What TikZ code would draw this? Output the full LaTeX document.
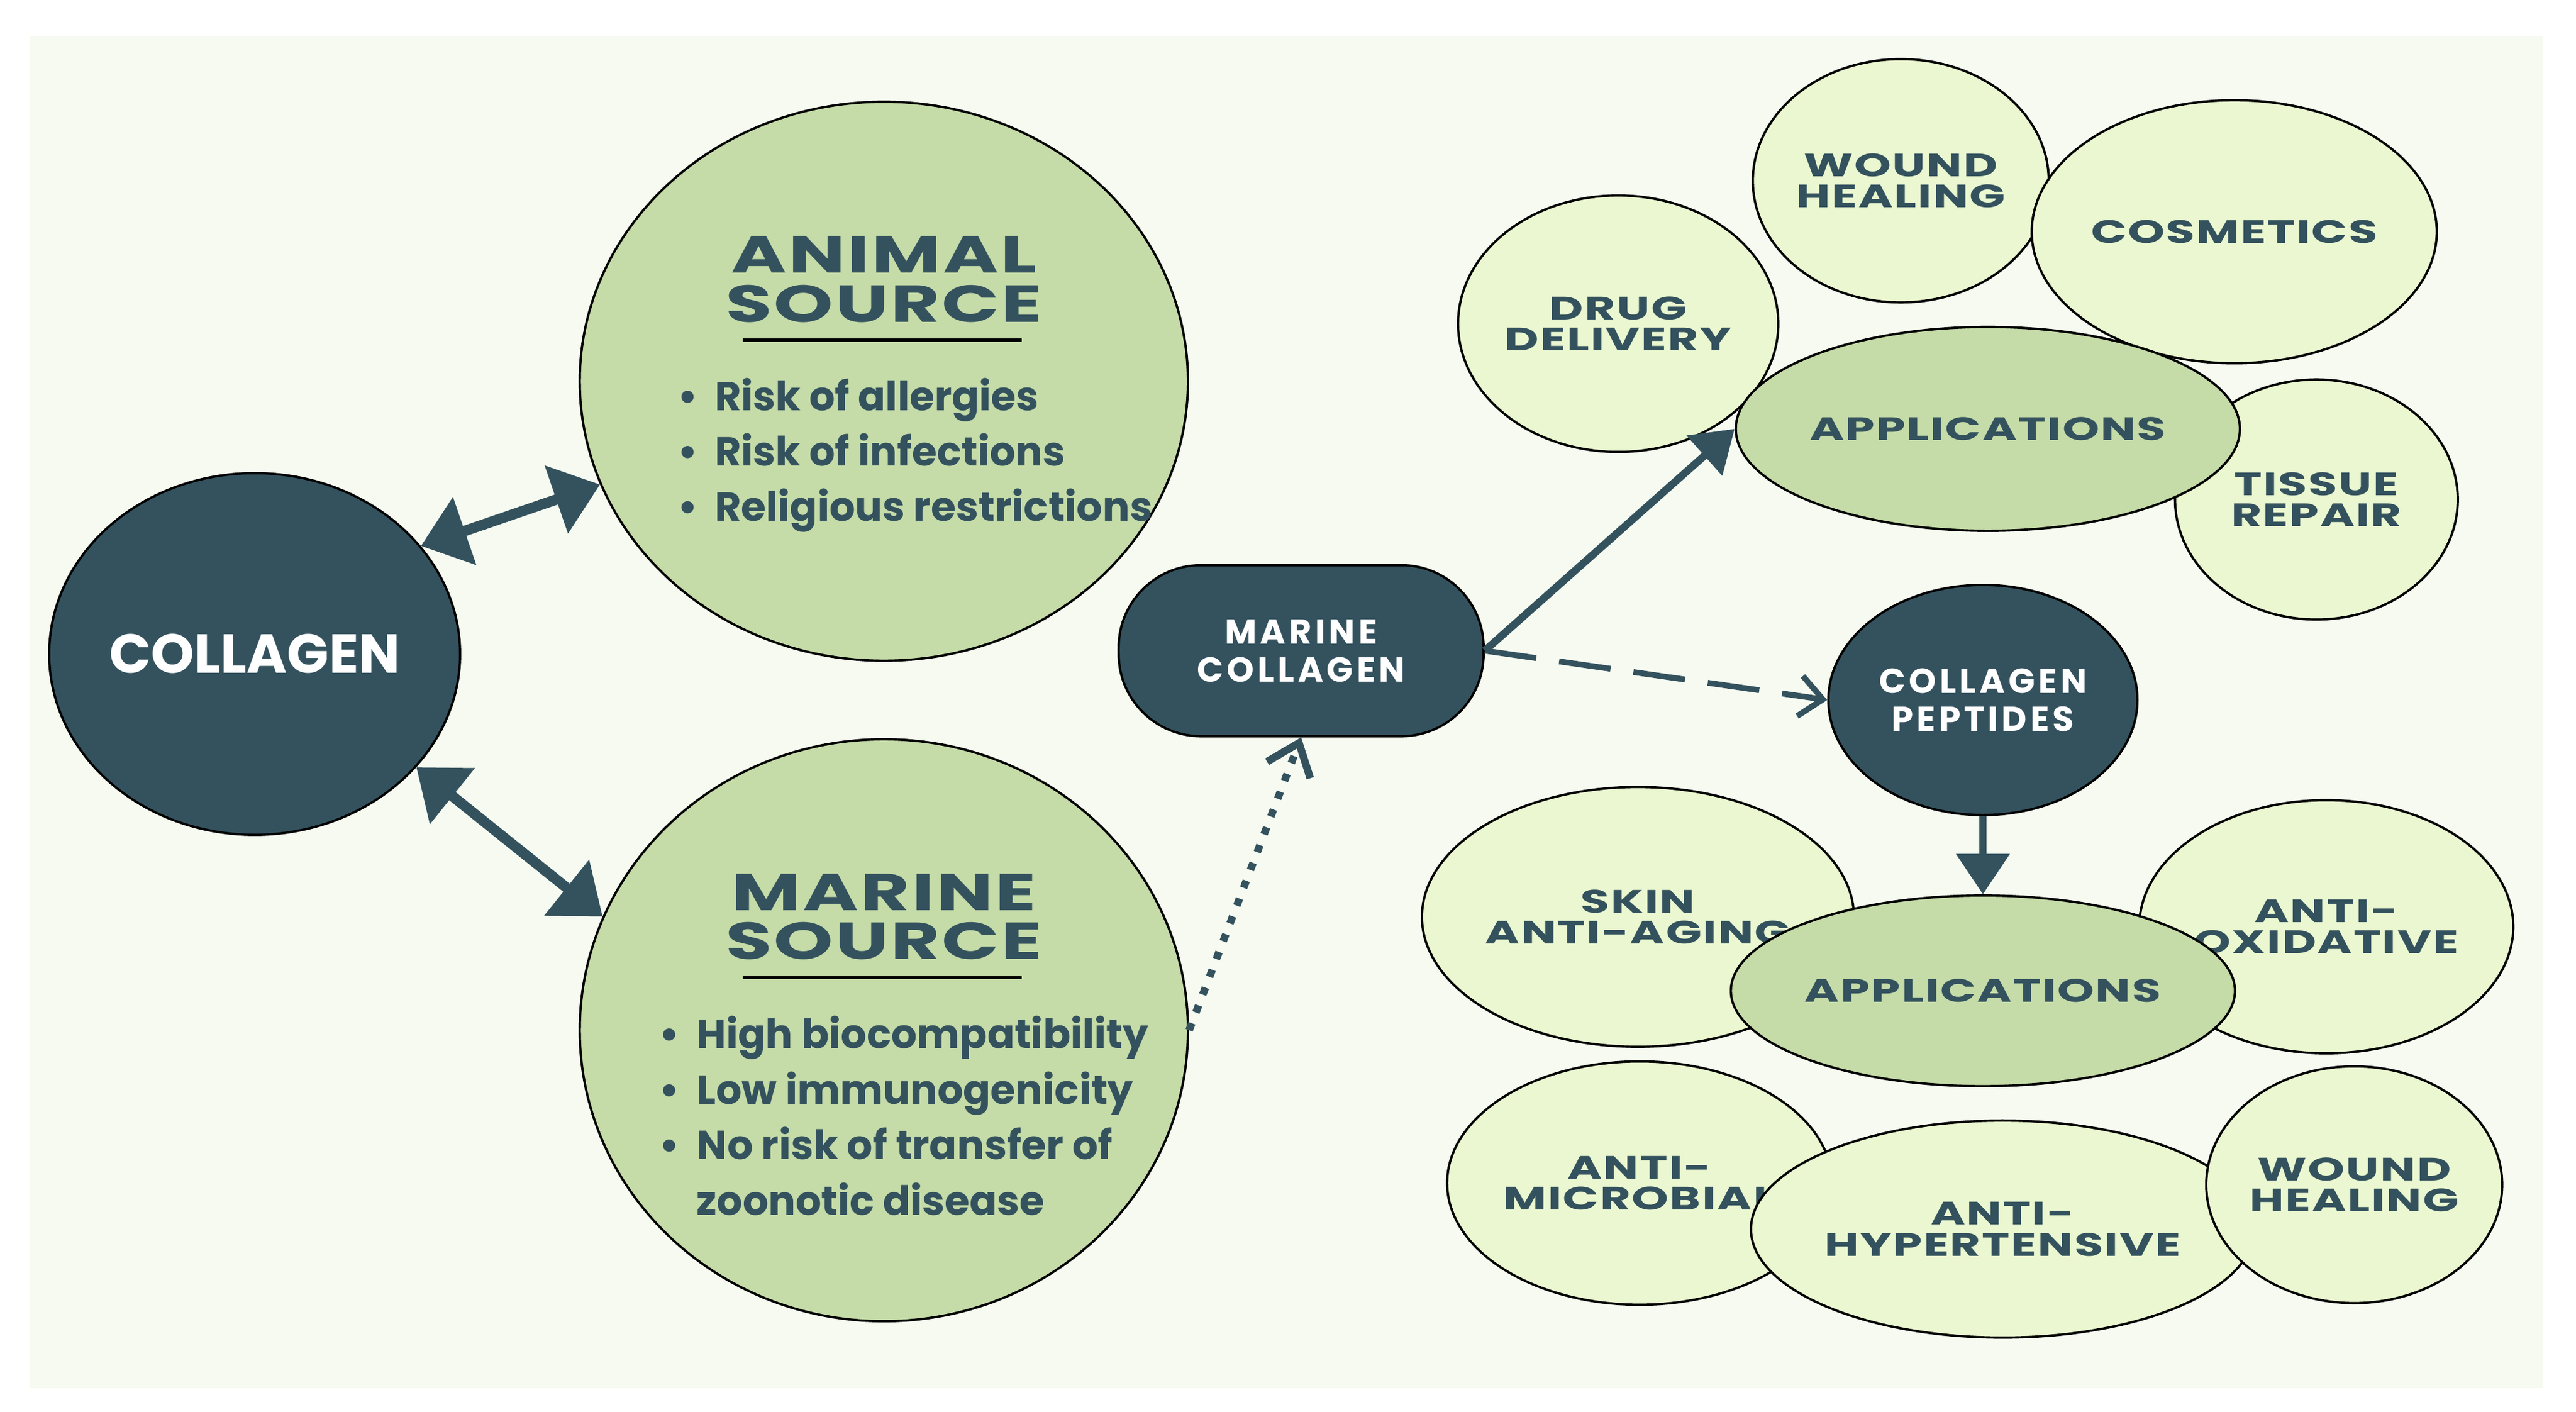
\documentclass[tikz,border=0pt]{standalone}
\usepackage{fontspec}
\setmainfont{Poppins}
\usetikzlibrary{arrows.meta,shapes.geometric}
\definecolor{dk}{HTML}{34525E}
\definecolor{mid}{HTML}{C5DBA8}
\definecolor{lt}{HTML}{EAF7D0}
\definecolor{bg}{HTML}{F6FAF0}
\tikzset{
 bub/.style={ellipse,draw=black,line width=0.4pt,fill=lt,inner sep=0pt,text=dk,align=center,font=\fontsize{5.6}{5.4}\selectfont\bfseries\addfontfeature{FakeStretch=1.45,LetterSpace=4}},
 app/.style={bub,fill=mid},
 dark/.style={ellipse,draw=black,line width=0.4pt,fill=dk,inner sep=0pt,text=white,align=center,font=\fontsize{6}{6.6}\selectfont\bfseries\addfontfeature{LetterSpace=10}},
 src/.style={ellipse,draw=black,line width=0.4pt,fill=mid,inner sep=0pt},
 head/.style={text=dk,align=center,font=\fontsize{9}{8.5}\selectfont\bfseries\addfontfeature{FakeStretch=1.45,LetterSpace=4}},
 blist/.style={text=dk,align=left,anchor=west,font=\fontsize{7}{9.6}\selectfont\bfseries},
 conn/.style={draw=dk,line width=1.3pt},
 dbl/.style={draw=dk,line width=1.8pt,{Triangle[width=12pt,length=8pt]}-{Triangle[width=12pt,length=8pt]}},
}
\begin{document}
\begin{tikzpicture}[x=0.01cm,y=-0.01cm]
\useasboundingbox (0,0) rectangle (1568,859);
\fill[white] (0,0) rectangle (1568,859);
\fill[bg] (18,22) rectangle (1548,845);
% collagen
\node[dark,minimum width=2.30cm,minimum height=2.20cm,font=\fontsize{9.5}{10}\selectfont\bfseries] (col) at (155,398) {COLLAGEN};
% sources
\node[src,minimum width=3.70cm,minimum height=3.40cm] (an) at (538,232) {};
\node[head] (anh) at (538,170) {ANIMAL\\SOURCE};
\draw[black,line width=0.6pt] (452,207) -- (622,207);
\node[blist] (anl) at (400,277) {\textbullet\ \ Risk of allergies\\\textbullet\ \ Risk of infections\\\textbullet\ \ Religious restrictions};
\node[src,minimum width=3.70cm,minimum height=3.54cm] (ma) at (538,627) {};
\node[head] (mah) at (538,558) {MARINE\\SOURCE};
\draw[black,line width=0.6pt] (452,595) -- (622,595);
\node[blist] (mal) at (389,679) {\textbullet\ \ High biocompatibility\\\textbullet\ \ Low immunogenicity\\\textbullet\ \ No risk of transfer of\\\phantom{\textbullet\ \ }zoonotic disease};
% marine collagen
\node[draw=black,line width=0.4pt,fill=dk,rounded corners=0.5cm,minimum width=2.22cm,minimum height=1.04cm,text=white,align=center,font=\fontsize{6}{6.6}\selectfont\bfseries\addfontfeature{LetterSpace=10}] (mc) at (792,396) {MARINE\\COLLAGEN};
% top cluster
\node[bub,minimum width=1.90cm,minimum height=1.56cm] (dd) at (985,197) {DRUG\\DELIVERY};
\node[bub,minimum width=1.74cm,minimum height=1.48cm] (wh1) at (1157,110) {WOUND\\HEALING};
\node[bub,minimum width=1.90cm,minimum height=1.60cm] (cos) at (1360,141) {COSMETICS};
\node[bub,minimum width=1.72cm,minimum height=1.46cm] (tr) at (1410,304) {TISSUE\\REPAIR};
\node[app,minimum width=2.34cm,minimum height=1.24cm] (ap1) at (1210,261) {APPLICATIONS};
% peptides
\node[dark,minimum width=1.88cm,minimum height=1.40cm] (cp) at (1207,426) {COLLAGEN\\PEPTIDES};
% bottom cluster
\node[bub,minimum width=1.88cm,minimum height=1.58cm] (sk) at (997,558) {SKIN\\ANTI-AGING};
\node[bub,minimum width=1.78cm,minimum height=1.54cm] (ao) at (1416,564) {ANTI-\\OXIDATIVE};
\node[bub,minimum width=1.80cm,minimum height=1.48cm] (am) at (998,720) {ANTI-\\MICROBIAL};
\node[bub,minimum width=2.40cm,minimum height=1.32cm] (ah) at (1219,748) {ANTI-\\HYPERTENSIVE};
\node[bub,minimum width=1.72cm,minimum height=1.44cm] (wh2) at (1433,721) {WOUND\\HEALING};
\node[app,minimum width=2.36cm,minimum height=1.16cm] (ap2) at (1207,603) {APPLICATIONS};
% connectors
\draw[dbl] (col.33) -- (an.200);
\draw[dbl] (col.-35) -- (ma.158);
\draw[draw=dk,line width=1.3pt,dotted,-{Straight Barb[length=5pt,width=8pt]}] (ma.east) -- (mc.south);
\draw[conn,-{Triangle[width=9pt,length=7pt]}] (mc.east) -- (ap1.west);
\draw[draw=dk,line width=1pt,dash pattern=on 9pt off 4pt,-{Straight Barb[length=4pt,width=7pt]}] (mc.east) -- (cp.west);
\draw[conn,-{Triangle[width=9pt,length=7pt]}] (cp.south) -- (ap2.north);
\end{tikzpicture}
\end{document}
